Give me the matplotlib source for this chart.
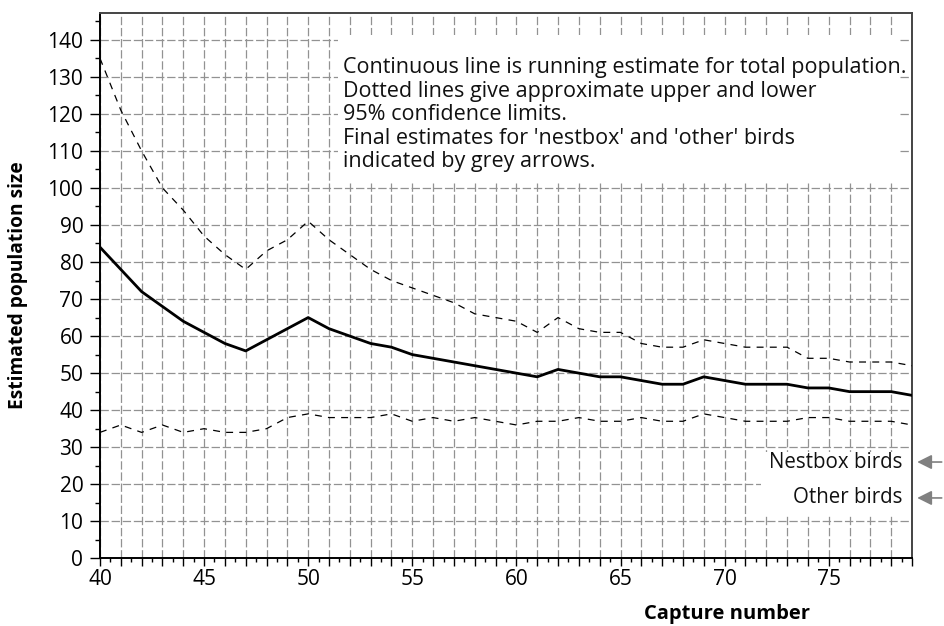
import numpy as np
import matplotlib
matplotlib.use("Agg")
import matplotlib.pyplot as plt
from matplotlib.ticker import MultipleLocator, FuncFormatter
from matplotlib.patches import Rectangle

plt.rcParams['font.family'] = ['Open Sans', 'DejaVu Sans']
plt.rcParams['lines.scale_dashes'] = False

# capture numbers and the running estimates
capture = list(range(40, 80))
estimate = [84, 78, 72, 68, 64, 61, 58, 56, 59, 62, 65, 62, 60, 58, 57, 55, 54, 53, 52, 51,
            50, 49, 51, 50, 49, 49, 48, 47, 47, 49, 48, 47, 47, 47, 46, 46, 45, 45, 45, 44]
upper = [135, 121, 110, 100, 94, 87, 82, 78, 83, 86, 91, 86, 82, 78, 75, 73, 71, 69, 66, 65,
         64, 61, 65, 62, 61, 61, 58, 57, 57, 59, 58, 57, 57, 57, 54, 54, 53, 53, 53, 52]
lower = [34, 36, 34, 36, 34, 35, 34, 34, 35, 38, 39, 38, 38, 38, 39, 37, 38, 37, 38, 37,
         36, 37, 37, 38, 37, 37, 38, 37, 37, 39, 38, 37, 37, 37, 38, 38, 37, 37, 37, 36]

final_labels = ['Nestbox birds', 'Other birds']
final_values = [26, 16.3]

note = ("Continuous line is running estimate for total population.\n"
        "Dotted lines give approximate upper and lower\n"
        "95% confidence limits.\n"
        "Final estimates for 'nestbox' and 'other' birds\n"
        "indicated by grey arrows.")

fig = plt.figure(figsize=(9.44, 6.26), dpi=100)
ax = fig.add_axes([0.1059, 0.1081, 0.8602, 0.8716])

ax.plot(capture, estimate, color='black', lw=2.0, zorder=4)
ax.plot(capture, upper, color='black', lw=0.9, dashes=(5, 4.5), zorder=4)
ax.plot(capture, lower, color='black', lw=0.9, dashes=(5, 4.5), zorder=4)

ax.set_xlim(40, 79)
ax.set_ylim(0, 147.3)

ax.xaxis.set_major_locator(MultipleLocator(1))
ax.xaxis.set_minor_locator(MultipleLocator(0.5))
ax.xaxis.set_major_formatter(FuncFormatter(lambda v, p: '%d' % v if int(round(v)) % 5 == 0 else ''))
ax.yaxis.set_major_locator(MultipleLocator(10))
ax.yaxis.set_minor_locator(MultipleLocator(5))

ax.tick_params(axis='x', which='major', length=6, width=1, direction='out', labelsize=15, pad=1.5)
ax.tick_params(axis='x', which='minor', length=3, width=1, direction='out')
ax.tick_params(axis='y', which='major', length=7, width=1, direction='out', labelsize=15, pad=5)
ax.tick_params(axis='y', which='minor', length=3.5, width=1, direction='out')

ax.grid(True, which='major', color='#929292', lw=0.9, dashes=(6, 2))
ax.set_axisbelow(True)

for side in ['left', 'bottom']:
    ax.spines[side].set_color('black')
    ax.spines[side].set_linewidth(1.4)
for side in ['top', 'right']:
    ax.spines[side].set_color('#444444')
    ax.spines[side].set_linewidth(1.4)

# white panels behind the notes
ax.add_patch(Rectangle((51.45, 102), 26.9, 39.2, facecolor='white', edgecolor='none', zorder=2))
ax.add_patch(Rectangle((71.75, 11.8), 7.25, 17.0, facecolor='white', edgecolor='none', zorder=2))

ax.text(51.65, 135.3, note, fontsize=15.5, va='top', ha='left', linespacing=1.16,
        color='#111111', zorder=3)

for lab, val in zip(final_labels, final_values):
    ax.text(78.55, val, lab, fontsize=14.8, ha='right', va='center', color='#111111', zorder=3)
    ax.annotate('', xy=(1.003, val), xycoords=('axes fraction', 'data'),
                xytext=(1.04, val), textcoords=('axes fraction', 'data'),
                arrowprops=dict(arrowstyle='-|>', color='#808080', lw=1.2, mutation_scale=22),
                annotation_clip=False)

ax.set_ylabel('Estimated population size', fontsize=13.8, fontweight='bold')
ax.yaxis.set_label_coords(-0.089, 0.5)
ax.set_xlabel('Capture number', fontsize=14.5, fontweight='bold')
ax.xaxis.set_label_coords(0.772, -0.083)

fig.savefig('out.png', dpi=100)
